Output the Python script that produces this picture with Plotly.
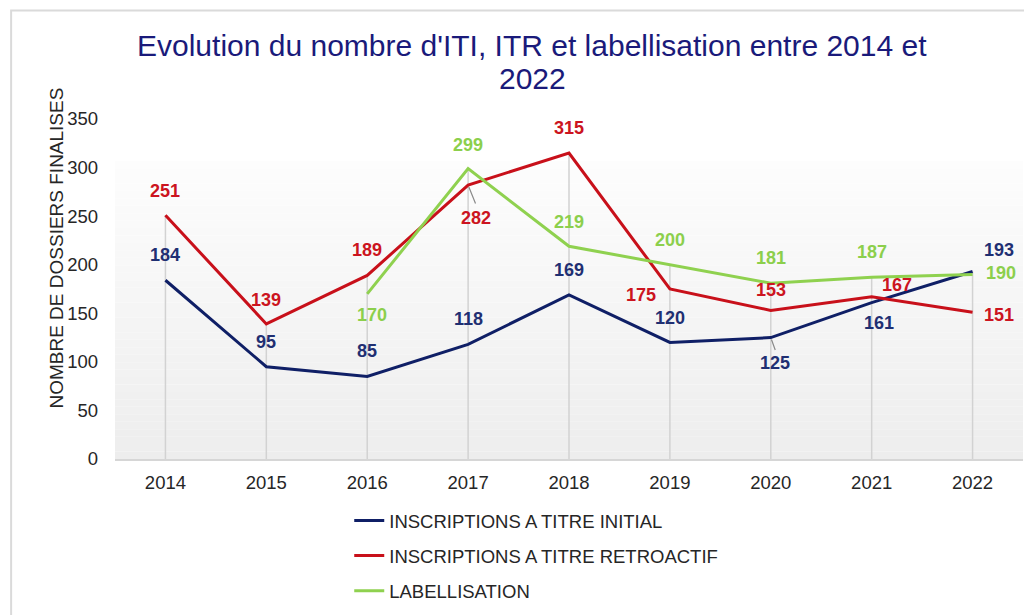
import plotly.graph_objects as go

# ---------------- data ----------------
years = ["2014", "2015", "2016", "2017", "2018", "2019", "2020", "2021", "2022"]
iti = [184, 95, 85, 118, 169, 120, 125, 161, 193]
itr = [251, 139, 189, 282, 315, 175, 153, 167, 151]
label = [None, None, 170, 299, 219, 200, 181, 187, 190]

names = ["INSCRIPTIONS A TITRE INITIAL", "INSCRIPTIONS A TITRE RETROACTIF", "LABELLISATION"]
title_lines = ["Evolution du nombre d'ITI, ITR et labellisation entre 2014 et", "2022"]
y_title = "NOMBRE DE DOSSIERS FINALISES"
y_ticks = [0, 50, 100, 150, 200, 250, 300, 350]

# ---------------- styles ----------------
C_BLUE = "#0f1f66"
C_RED = "#c8101a"
C_GREEN = "#8fd14f"
C_BLUE_TXT = "#1f2f72"
C_RED_TXT = "#cc1420"
C_GREEN_TXT = "#8ccf4c"
FONT = "Liberation Sans, Arial, sans-serif"
TXT = "#262626"

OFF = 8  # page body margin
W, H = 1024, 607
L, R, T, B = 106.5, 8.5, 111, 156
PW, PH = W - L - R, H - T - B


def px(X):  # reference image pixel -> paper x
    return (X - OFF - L) / PW


def py(Y):  # reference image pixel -> paper y
    return (H - B - (Y - OFF)) / PH


xi = list(range(len(years)))

# label offsets (dx, dy in px) per series, per point
off_iti = [(0, -25), (0, -25), (0, -25), (0, -25), (0, -25), (0, -24), (4, 25), (7, 20), (26, -22)]
off_itr = [(0, -24), (0, -24), (0, -25), (8, 33), (0, -25), (-29, 6), (0, -20), (25, -12), (26, 3)]
off_lab = [None, None, (5, 21), (0, -24), (0, -24), (0, -25), (0, -25), (0, -25), (28, -1)]

fig = go.Figure()

# gradient background (stacked bands)
n_b = 40
g_top, g_bot = py(161), 0.0
for i in range(n_b):
    y0 = g_top - (g_top - g_bot) * i / n_b
    y1 = g_top - (g_top - g_bot) * (i + 1) / n_b
    t = (i + 0.5) / n_b
    c = int(round(253 - t * 16))
    fig.add_shape(type="rect", xref="paper", yref="paper", x0=0, x1=1, y0=y1, y1=y0,
                  fillcolor=f"rgb({c},{c},{c})", line=dict(width=0), layer="below")

# outer frame
fig.add_shape(type="rect", xref="paper", yref="paper", x0=px(10.5), x1=px(1060), y0=py(640), y1=py(10.5),
              line=dict(color="#dadada", width=2), fillcolor="rgba(0,0,0,0)", layer="below")

# drop lines
drop_x, drop_y = [], []
for i in xi:
    vals = [v for v in (iti[i], itr[i], label[i]) if v is not None]
    drop_x += [i, i, None]
    drop_y += [0, max(vals), None]
fig.add_trace(go.Scatter(x=drop_x, y=drop_y, mode="lines", line=dict(color="#d2d2d2", width=1.5),
                         showlegend=False, hoverinfo="skip"))

for nm, vals, col, grp in [(names[0], iti, C_BLUE, "a"), (names[1], itr, C_RED, "b"), (names[2], label, C_GREEN, "c")]:
    fig.add_trace(go.Scatter(x=xi, y=vals, mode="lines", name=nm, legendgroup=grp,
                             line=dict(color=col, width=3)))

annos = []
for vals, offs, col in [(iti, off_iti, C_BLUE_TXT), (itr, off_itr, C_RED_TXT), (label, off_lab, C_GREEN_TXT)]:
    for i, v, o in zip(xi, vals, offs):
        if v is None:
            continue
        annos.append(dict(x=i, y=v, xref="x", yref="y", text=f"<b>{v}</b>", showarrow=False,
                          xshift=o[0], yshift=-o[1],
                          font=dict(family=FONT, size=18, color=col)))

# leader lines for 282 (2017 ITR) and 125 (2020 ITI)
for i, v, dx, dy in [(3, 282, 8, 20), (6, 125, 5, 14)]:
    annos.append(dict(x=i, y=v, xref="x", yref="y", text="", showarrow=True, arrowhead=0,
                      arrowwidth=1.2, arrowcolor="#8a8a8a", ax=dx, ay=dy, standoff=2))

annos.append(dict(x=px(55), y=py(248), xref="paper", yref="paper", text=y_title, textangle=-90,
                  xanchor="center", yanchor="middle",
                  showarrow=False, font=dict(family=FONT, size=19, color=TXT)))

for txt, yc in zip(title_lines, [45, 78]):
    annos.append(dict(x=px(532), y=py(yc), xref="paper", yref="paper", text=txt, showarrow=False,
                      xanchor="center", yanchor="middle",
                      font=dict(family=FONT, size=30, color="#1a1a7a")))

fig.update_layout(
    width=W, height=H,
    margin=dict(l=L, r=R, t=T, b=B, autoexpand=False),
    paper_bgcolor="white", plot_bgcolor="rgba(0,0,0,0)",
    xaxis=dict(range=[-0.5, 8.5], tickvals=xi, ticktext=years, showgrid=False, zeroline=False,
               showline=True, linecolor="#d6d6d6", linewidth=2, ticks="", ticklabelstandoff=6,
               automargin=False,
               tickfont=dict(family=FONT, size=18.5, color=TXT)),
    yaxis=dict(range=[0, 350], tickvals=y_ticks, showgrid=False, zeroline=False, showline=False,
               ticks="", ticklabelstandoff=16, automargin=False,
               tickfont=dict(family=FONT, size=18.5, color=TXT)),
    showlegend=True,
    legend=dict(x=px(349), y=py(502), xanchor="left", yanchor="top", orientation="v",
                tracegroupgap=8, bgcolor="rgba(0,0,0,0)",
                font=dict(family=FONT, size=18.5, color=TXT)),
    annotations=annos,
)

fig.write_html("out.html")
